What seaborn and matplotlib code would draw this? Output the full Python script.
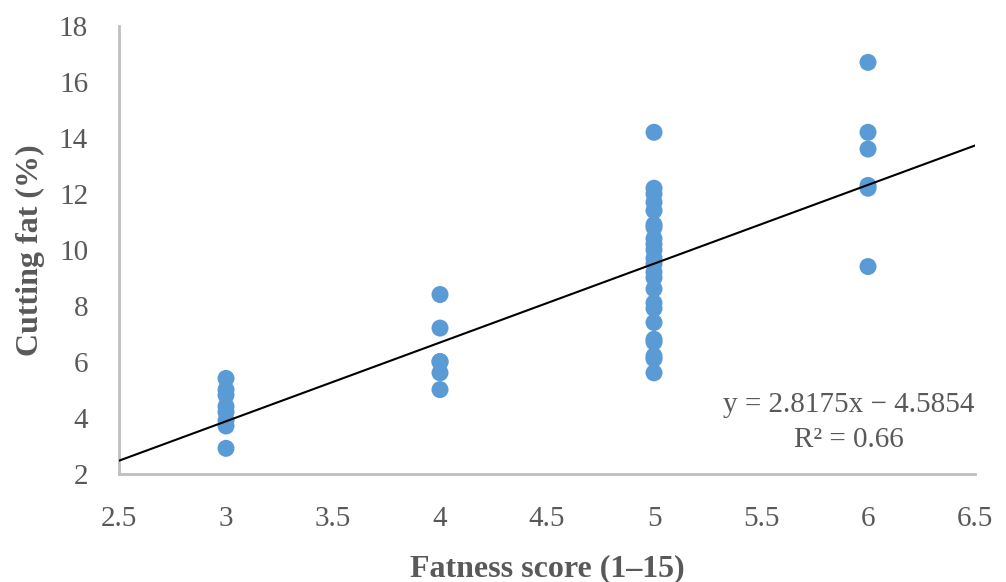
import matplotlib
matplotlib.use("Agg")
import matplotlib.pyplot as plt
import seaborn as sns
import pandas as pd
import numpy as np

# Data
score_3 = [5.4, 5.0, 4.8, 4.4, 4.2, 3.9, 3.7, 2.9]
score_4 = [8.4, 7.2, 6.0, 6.0, 5.6, 5.0]
score_5 = [14.2, 12.2, 12.0, 11.7, 11.4, 10.9, 10.8, 10.4, 10.2, 10.0, 9.7, 9.5,
           9.2, 9.0, 8.6, 8.1, 7.9, 7.4, 6.8, 6.7, 6.2, 6.1, 5.6]
score_6 = [16.7, 14.2, 13.6, 12.3, 12.2, 9.4]
slope = 2.8175
intercept = -4.5854
r2 = 0.66

x_ticks = [2.5, 3, 3.5, 4, 4.5, 5, 5.5, 6, 6.5]
y_ticks = [2, 4, 6, 8, 10, 12, 14, 16, 18]

groups = {3: score_3, 4: score_4, 5: score_5, 6: score_6}
df = pd.DataFrame([(k, v) for k, vals in groups.items() for v in vals],
                  columns=["score", "fat"])

sns.set_theme(style="white")
plt.rcParams["font.family"] = ["Liberation Serif", "DejaVu Serif"]

fig = plt.figure(figsize=(10.06, 5.82), dpi=100)
ax = fig.add_axes([0.1183, 0.1864, 0.8509, 0.7689])

sns.scatterplot(data=df, x="score", y="fat", ax=ax, s=150, color="#5B9BD5",
                edgecolor="none", linewidth=0, zorder=3)

xl = np.array([2.5, 6.5])
ax.plot(xl, slope * xl + intercept, color="black", lw=1.5, zorder=4)

ax.set_xlim(2.5, 6.5)
ax.set_ylim(2, 18)
ax.set_xticks(x_ticks)
ax.set_xticklabels([f"{t:g}" for t in x_ticks])
ax.set_yticks(y_ticks)
ax.set_yticklabels([str(t) for t in y_ticks])

grey = "#595959"
spine_c = "#BFBFBF"
for s in ["top", "right"]:
    ax.spines[s].set_visible(False)
for s in ["left", "bottom"]:
    ax.spines[s].set_color(spine_c)
    ax.spines[s].set_linewidth(2)
ax.tick_params(axis="both", which="major", direction="inout", length=14.4,
               width=2, color=spine_c, labelcolor=grey, labelsize=21)
ax.tick_params(axis="x", pad=16)
ax.tick_params(axis="y", pad=15)

ax.set_xlabel("Fatness score (1–15)", fontsize=23, fontweight="bold", color=grey, labelpad=16)
ax.set_ylabel("Cutting fat (%)", fontsize=23, fontweight="bold", color=grey, labelpad=10)

ax.text(5.91, 4.45, f"y = {slope}x − {abs(intercept)}", fontsize=21, color=grey,
        ha="center", va="center")
ax.text(5.91, 3.2, f"R² = {r2}", fontsize=21, color=grey, ha="center", va="center")

fig.savefig("out.png", dpi=100)
